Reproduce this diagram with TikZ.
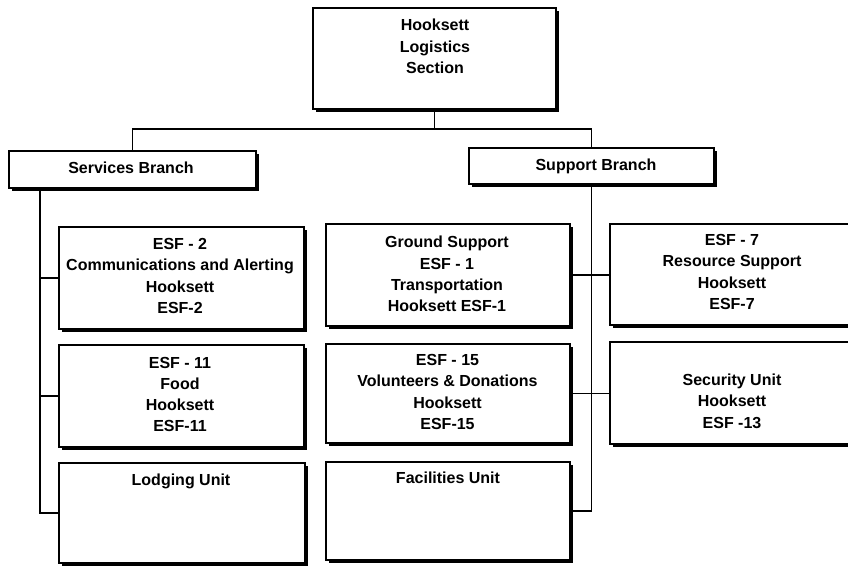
\documentclass[tikz,border=0pt]{standalone}
\usepackage{fontspec}
\setmainfont{Liberation Sans}
\usetikzlibrary{shadows}
\tikzset{
  box/.style={draw=black, line width=1.9pt, fill=white, inner sep=0pt, anchor=north west,
    drop shadow={shadow xshift=3.5pt, shadow yshift=-3.5pt, fill=black, opacity=1}},
  lbl/.style={align=center, inner sep=0pt, font=\fontsize{16}{21.3}\selectfont\bfseries},
  conn/.style={draw=black, line width=1.9pt}
}
\begin{document}
\begin{tikzpicture}[x=1pt, y=-1pt]
\useasboundingbox (0,0) rectangle (848,565);
\clip (0,0) rectangle (848,565);
\fill[white] (0,0) rectangle (848,565);

\coordinate (bar) at (0,129);
\coordinate (lspine) at (40,0);

% boxes
\node[box, minimum width=243, minimum height=101] (top) at (312,7) {};
\node[box, minimum width=247, minimum height=37] (svc) at (8,150) {};
\node[box, minimum width=245, minimum height=36] (sup) at (468,147) {};
\node[box, minimum width=245, minimum height=102] (esf2) at (58,226) {};
\node[box, minimum width=245, minimum height=102] (esf11) at (58,344) {};
\node[box, minimum width=246, minimum height=100] (lodg) at (58,462) {};
\node[box, minimum width=244, minimum height=102] (gnd) at (325,223) {};
\node[box, minimum width=244, minimum height=99] (esf15) at (325,343) {};
\node[box, minimum width=244, minimum height=98] (fac) at (325,461) {};
\node[box, minimum width=250, minimum height=101] (esf7) at (609,223) {};
\node[box, minimum width=250, minimum height=102] (sec) at (609,341) {};

% connectors
\draw[conn] (top.south) -- (top.south |- bar);
\draw[conn] (svc.north) -- (svc.north |- bar) -- (sup.north |- bar) -- (sup.north);
\draw[conn] (svc.south -| lspine) |- (lodg.west);
\draw[conn] (lspine |- esf2.west) -- (esf2.west);
\draw[conn] (lspine |- esf11.west) -- (esf11.west);
\draw[conn] (sup.south) |- (fac.east);
\draw[conn] (gnd.east) -- (gnd.east -| esf7.west);
\draw[conn] (esf15.east) -- (esf15.east -| sec.west);

% labels
\node[lbl] (t-top) at (435,46.5) {Hooksett\\Logistics\\Section};
\node[lbl] (t-svc) at (131,168) {Services Branch};
\node[lbl] (t-sup) at (596,166.7) {Support Branch};
\node[lbl] (t-esf2) at (180,276) {ESF - 2\\Communications and Alerting\\Hooksett\\ESF-2};
\node[lbl] (t-esf11) at (180,394.5) {ESF - 11\\Food\\Hooksett\\ESF-11};
\node[lbl] (t-lodg) at (181,481.7) {Lodging Unit};
\node[lbl] (t-gnd) at (447,274) {Ground Support\\ESF - 1\\Transportation\\Hooksett ESF-1};
\node[lbl] (t-esf15) at (447.5,392) {ESF - 15\\Volunteers \& Donations\\Hooksett\\ESF-15};
\node[lbl] (t-fac) at (448,478) {Facilities Unit};
\node[lbl] (t-esf7) at (732,272) {ESF - 7\\Resource Support\\Hooksett\\ESF-7};
\node[lbl] (t-sec) at (732,401) {Security Unit\\Hooksett\\ESF -13};
\end{tikzpicture}
\end{document}
